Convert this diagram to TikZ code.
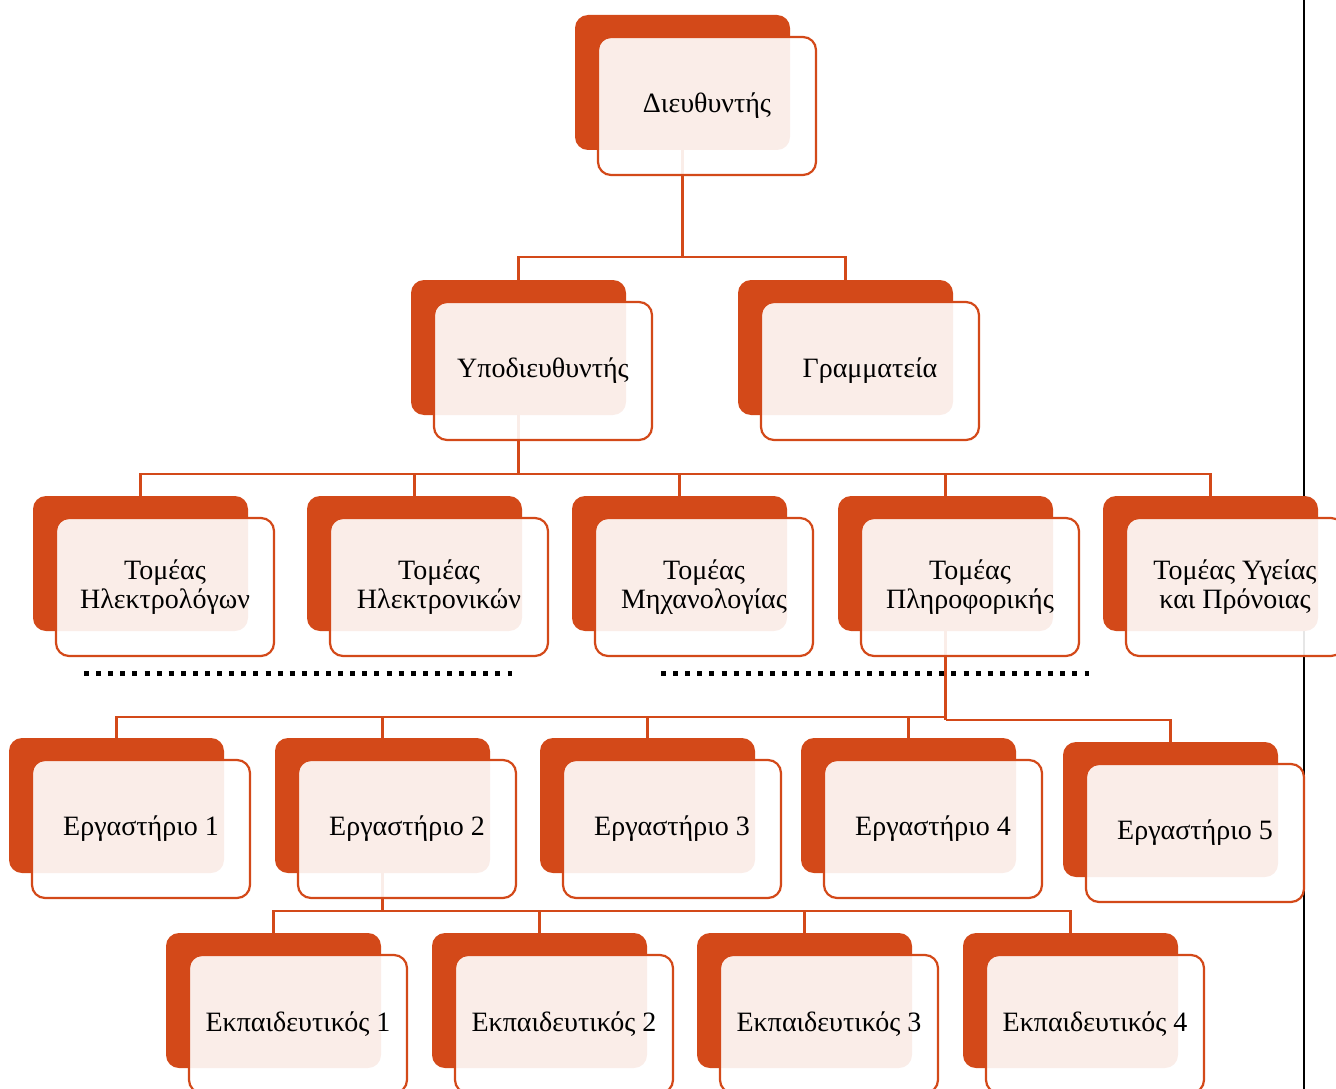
\documentclass[tikz,border=0pt]{standalone}
\usepackage{fontspec}
\setmainfont{Liberation Serif}
\usetikzlibrary{calc}
\definecolor{org}{RGB}{211,73,25}
\pgfdeclarelayer{bg}
\pgfsetlayers{bg,main}
\tikzset{
  backbox/.style={fill=org, rounded corners=13pt, minimum width=215pt, minimum height=135pt, inner sep=0pt, outer sep=0pt, anchor=north west},
  frontbox/.style={draw=org, line width=2.2pt, fill=white, fill opacity=0.9, text opacity=1, rounded corners=13pt, minimum width=218pt, minimum height=138pt, inner sep=0pt, outer sep=0pt, anchor=north west, align=center, font=\fontsize{28}{29}\selectfont},
  conn/.style={draw=org, line width=2.4pt},
  dotline/.style={draw=black, line width=5pt, dash pattern=on 5pt off 7.1pt},
  edge/.style={draw=black, line width=2.5pt}
}
\newcommand\obox[4]{%
  \node[backbox] (#1) at (#2,#3) {};
  \node[frontbox] (#1-f) at ($(#1.north west)+(23,22)$) {#4};
}
\begin{document}
\begin{tikzpicture}[x=1pt,y=-1pt]
\useasboundingbox (0,0) rectangle (1336,1089);
\obox{dir}{575}{15}{Διευθυντής}
\obox{sub}{411}{280}{Υποδιευθυντής}
\obox{sec}{738}{280}{Γραμματεία}
\obox{t1}{33}{496}{Τομέας\\Ηλεκτρολόγων}
\obox{t2}{307}{496}{Τομέας\\Ηλεκτρονικών}
\obox{t3}{572}{496}{Τομέας\\Μηχανολογίας}
\obox{t4}{838}{496}{Τομέας\\Πληροφορικής}
\obox{t5}{1103}{496}{Τομέας Υγείας\\και Πρόνοιας}
\obox{e1}{9}{738}{Εργαστήριο 1}
\obox{e2}{275}{738}{Εργαστήριο 2}
\obox{e3}{540}{738}{Εργαστήριο 3}
\obox{e4}{801}{738}{Εργαστήριο 4}
\obox{e5}{1063}{742}{Εργαστήριο 5}
\obox{k1}{166}{933}{Εκπαιδευτικός 1}
\obox{k2}{432}{933}{Εκπαιδευτικός 2}
\obox{k3}{697}{933}{Εκπαιδευτικός 3}
\obox{k4}{963}{933}{Εκπαιδευτικός 4}
\begin{pgfonlayer}{bg}
  \coordinate (vtop) at (1304,0);
  \coordinate (vbot) at (1304,1089);
  \draw[edge] (vtop) -- (vbot);
  \coordinate (j1) at ($(dir.south)+(0,107)$);
  \draw[conn] (dir.south) -- (j1);
  \draw[conn] (j1) -| (sub.north);
  \draw[conn] (j1) -| (sec.north);
  \coordinate (j2) at ($(sub.south)+(0,59)$);
  \draw[conn] (sub.south) -- (j2);
  \foreach \c in {t1,t2,t3,t4,t5} \draw[conn] (j2) -| (\c.north);
  \coordinate (j3) at ($(t4.south)+(0,86)$);
  \coordinate (j3b) at ($(t4.south)+(0,89)$);
  \draw[conn] (t4.south) -- (j3b);
  \foreach \c in {e1,e2,e3,e4} \draw[conn] (j3) -| (\c.north);
  \draw[conn] (j3b) -| (e5.north);
  \coordinate (j4) at ($(e2.south)+(0,38)$);
  \draw[conn] (e2.south) -- (j4);
  \foreach \c in {k1,k2,k3,k4} \draw[conn] (j4) -| (\c.north);
\end{pgfonlayer}
\coordinate (d1a) at (84,673);
\coordinate (d1b) at (512,673);
\coordinate (d2a) at (661,673);
\coordinate (d2b) at (1089,673);
\draw[dotline] (d1a) -- (d1b);
\draw[dotline] (d2a) -- (d2b);
\end{tikzpicture}
\end{document}
